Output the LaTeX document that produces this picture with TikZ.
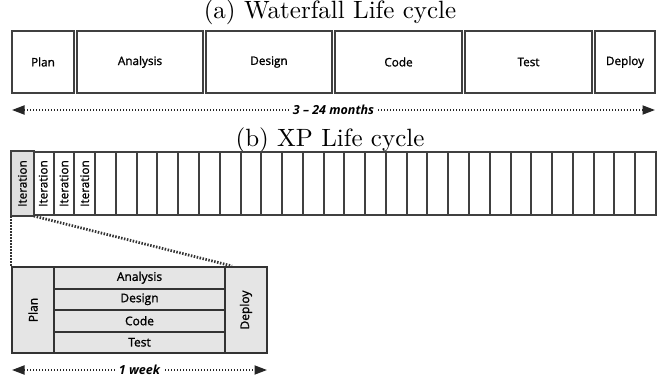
\documentclass[tikz,border=0pt]{standalone}
\usepackage{fontspec}
\newfontfamily\phasefont[FakeBold=1.2]{Open Sans}
\newfontfamily\spanfont{Open Sans}
\usetikzlibrary{arrows.meta}
\usetikzlibrary{calc}

\newcommand\pxu{0.4pt}

\tikzset{
  phase/.style={draw=black!75, line width=0.9pt, inner sep=0pt,
    minimum height=62*\pxu, font=\phasefont\fontsize{4.7}{5.5}\selectfont},
  iter/.style={draw=black!75, line width=0.8pt, inner sep=0pt,
    minimum width=20.774*\pxu, minimum height=63*\pxu},
  detail/.style={draw=black!80, fill=black!10, line width=0.8pt, inner sep=0pt,
    font=\phasefont\fontsize{4.8}{5.5}\selectfont},
  span/.style={draw=black!85, line width=0.7pt, dash pattern=on 0.5pt off 0.7pt,
    {Triangle[length=5pt,width=3.6pt]}-{Triangle[length=5pt,width=3.6pt]}},
  spanlabel/.style={fill=white, inner sep=1pt,
    font=\spanfont\bfseries\itshape\fontsize{5}{6}\selectfont},
  zoomline/.style={draw=black!80, line width=1.1pt, dash pattern=on 0.6pt off 0.6pt},
}

\begin{document}
\begin{tikzpicture}[x=\pxu, y=-\pxu]
    \useasboundingbox (0,0) rectangle (659,379);

    % waterfall
    \node (ta) at (330,12) {(a) Waterfall Life cycle};
    \node[phase, minimum width=62*\pxu] (wplan) at (43,62) {Plan};
    \node[phase, minimum width=126*\pxu] (wana) at (140,62) {Analysis};
    \node[phase, minimum width=126*\pxu] (wdes) at (269,62) {Design};
    \node[phase, minimum width=127*\pxu] (wcode) at (398.5,62) {Code};
    \node[phase, minimum width=127*\pxu] (wtest) at (528.5,62) {Test};
    \node[phase, minimum width=60*\pxu] (wdep) at (625,62) {Deploy};
    \coordinate (mL) at (12,110);
    \coordinate (mR) at (655,110);
    \draw[span] (mL) -- node[spanlabel] (mlbl) {3 – 24 months} (mR);

    % xp iterations
    \node (tb) at (330,140) {(b) XP Life cycle};
    \foreach \i in {1,...,31}
        \node[iter] (c\i) at ({12+(\i-0.5)*20.774},183.5) {};
    \fill[black!12] (c1.south west) rectangle (c1.north east);
    \draw[black!75, line width=0.8pt] (c1.south west) rectangle (c1.north east);
    \foreach \i in {1,...,4}
        \node[rotate=90, font=\phasefont\fontsize{4.7}{5}\selectfont] (it\i) at (c\i) {Iteration};

    % one iteration in detail
    \node[detail, minimum width=42*\pxu, minimum height=86*\pxu,
        label={[rotate=90, font=\phasefont\fontsize{4.8}{5.5}\selectfont]center:Plan}] (dplan) at (33,310) {};
    \node[detail, minimum width=171*\pxu, minimum height=21.5*\pxu] (dana) at (139.5,277.75) {Analysis};
    \node[detail, minimum width=171*\pxu, minimum height=21.5*\pxu] (ddes) at (139.5,299.25) {Design};
    \node[detail, minimum width=171*\pxu, minimum height=21.5*\pxu] (dcode) at (139.5,320.75) {Code};
    \node[detail, minimum width=171*\pxu, minimum height=21.5*\pxu] (dtest) at (139.5,342.25) {Test};
    \node[detail, minimum width=42*\pxu, minimum height=86*\pxu,
        label={[rotate=90, font=\phasefont\fontsize{4.8}{5.5}\selectfont]center:Deploy}] (ddep) at (246,310) {};
    \coordinate (zend) at ($(ddep.north west)+(8,0)$);
    \draw[zoomline] (c1.south west) -- (dplan.north west);
    \draw[zoomline] (c1.south east) -- (zend);

    \coordinate (wL) at (12,370);
    \coordinate (wR) at (267,370);
    \draw[span] (wL) -- node[spanlabel] (wlbl) {1 week} (wR);
\end{tikzpicture}
\end{document}
